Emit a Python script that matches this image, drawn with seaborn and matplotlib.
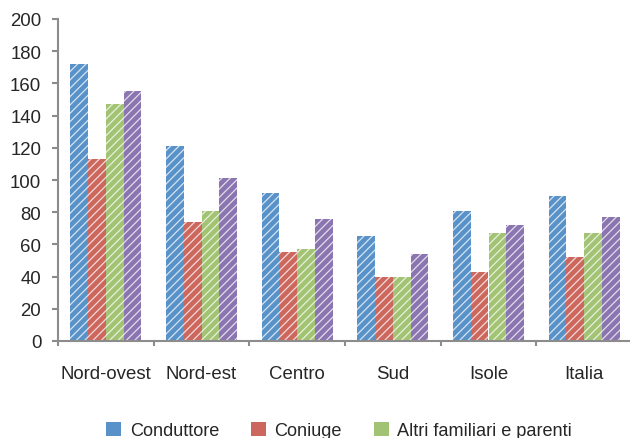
import numpy as np
import pandas as pd
import matplotlib
matplotlib.use("Agg")
import matplotlib.pyplot as plt
from matplotlib.patches import Patch
import seaborn as sns

# Ripartizioni territoriali
categorie = ["Nord-ovest", "Nord-est", "Centro", "Sud", "Isole", "Italia"]
serie = ["Conduttore", "Coniuge", "Altri familiari e parenti", "Totale"]

conduttore = [172, 121, 92, 65, 81, 90]
coniuge = [113, 74, 55, 40, 43, 52]
altri_familiari = [147, 81, 57, 40, 67, 67]
totale = [155, 101, 76, 54, 72, 77]

y_ticks = [0, 20, 40, 60, 80, 100, 120, 140, 160, 180, 200]

colori = ["#5892C8", "#CC675E", "#A2C373", "#8A75B0"]

valori = [conduttore, coniuge, altri_familiari, totale]
df = pd.DataFrame({
    "categoria": np.repeat([categorie], len(serie), axis=0).ravel(),
    "serie": np.repeat(serie, len(categorie)),
    "valore": np.concatenate(valori),
})

sns.set_style("white")
plt.rcParams["font.family"] = ["Liberation Sans", "DejaVu Sans"]
plt.rcParams["hatch.linewidth"] = 0.9

fig = plt.figure(figsize=(6.30, 4.39), dpi=100)
ax = fig.add_axes([58 / 630, 1 - 342 / 439, (632 - 58) / 630, (342 - 20) / 439])

sns.barplot(data=df, x="categoria", y="valore", hue="serie", order=categorie,
            hue_order=serie, palette=colori, width=0.74, gap=0.0,
            saturation=1.0, legend=False, ax=ax)

# Tratteggio bianco a mano libera sulle barre
for p in ax.patches:
    p.set_hatch("////")
    p.set_edgecolor((1, 1, 1, 0.75))
    p.set_linewidth(0)

ax.set_xlim(-0.5, len(categorie) - 0.5)
ax.set_ylim(0, 200)
ax.set_yticks(y_ticks)
ax.set_yticklabels([str(t) for t in y_ticks], fontsize=13.4)
ax.set_xlabel("")
ax.set_ylabel("")

# Etichette di categoria sotto l'asse
ax.set_xticks(np.arange(len(categorie)))
ax.set_xticklabels(categorie, fontsize=13.4)
ax.tick_params(axis="x", length=0, pad=17)
for x in np.arange(len(categorie) + 1) - 0.5:
    ax.plot([x, x], [0, -2.8], color="#8c8c8c", lw=1.5, clip_on=False,
            solid_capstyle="butt")

ax.tick_params(axis="y", length=4, width=1.5, color="#8c8c8c", pad=8,
               direction="out", left=True)

for side in ["top", "right"]:
    ax.spines[side].set_visible(False)
for side in ["left", "bottom"]:
    ax.spines[side].set_color("#8c8c8c")
    ax.spines[side].set_linewidth(1.5)

# Legenda in basso (le prime tre voci)
handles = [Patch(facecolor=c, edgecolor="none") for c in colori[:3]]
fig.legend(handles, serie[:3], loc="center left",
           bbox_to_anchor=(106 / 630, 1 - 431.5 / 439),
           ncol=3, frameon=False, fontsize=13.1, handlelength=0.85,
           handleheight=0.85, handletextpad=0.45, columnspacing=1.75,
           borderaxespad=0, borderpad=0)

fig.savefig("out.png", dpi=100)
